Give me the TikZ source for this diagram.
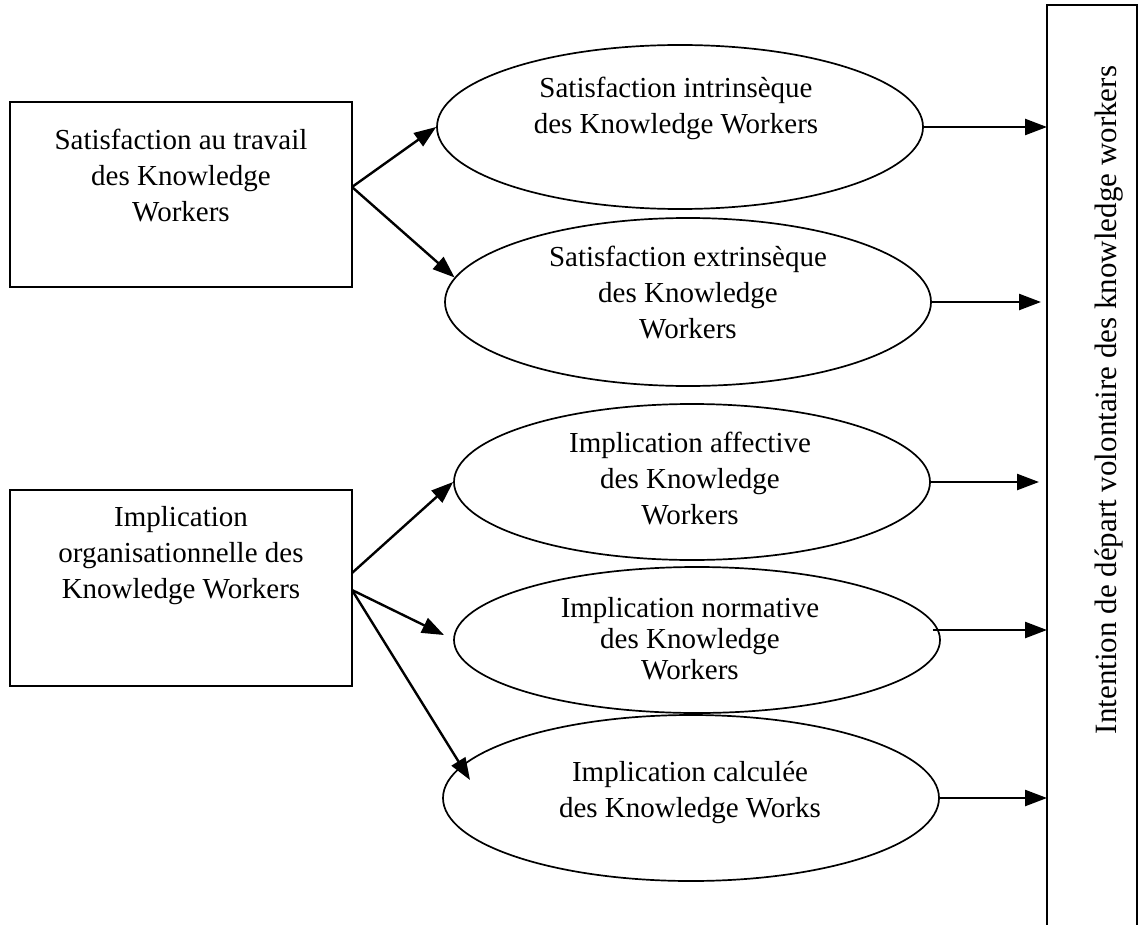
\documentclass[tikz,border=0pt]{standalone}
\usepackage{fontspec}
\setmainfont{Liberation Serif}
\usetikzlibrary{shapes.geometric,arrows.meta}
\begin{document}
\begin{tikzpicture}[x=1pt,y=-1pt,
  txt/.style={align=center,font=\fontsize{29}{36}\selectfont,inner sep=0pt},
  boxnode/.style={draw,line width=1.7pt,inner sep=0pt,minimum width=342pt},
  oval/.style={draw,ellipse,line width=1.7pt,inner sep=0pt},
  arr/.style={-{Triangle[length=22pt,width=16pt]},line width=2.4pt}]
\useasboundingbox (0,0) rectangle (1147,925);

% source boxes
\node[boxnode,minimum height=185pt] (b1) at (181,194.5) {};
\node[txt] at (181,176) {Satisfaction au travail\\des Knowledge\\Workers};
\node[boxnode,minimum height=196pt] (b2) at (181,588) {};
\node[txt] at (181,556) {Implication\\organisationnelle des\\Knowledge Workers};

% outcome box, running past the lower edge
\draw[line width=1.7pt] (1137,925) -- (1137,5) -- (1047,5) -- (1047,925);
\coordinate (tl) at (1047,5);
\node[txt,rotate=90,font=\fontsize{31}{36}\selectfont] at (1109,400) {Intention de départ volontaire des knowledge workers};

% dimension ellipses
\node[oval,minimum width=486pt,minimum height=164pt] (e1) at (680,127) {};
\node[txt] at (676,108) {Satisfaction intrinsèque\\des Knowledge Workers};
\node[oval,minimum width=486pt,minimum height=168pt] (e2) at (688,302) {};
\node[txt] at (688,293) {Satisfaction extrinsèque\\des Knowledge\\Workers};
\node[oval,minimum width=476pt,minimum height=156pt] (e3) at (692,482) {};
\node[txt] at (690,479) {Implication affective\\des Knowledge\\Workers};
\node[oval,minimum width=486pt,minimum height=146pt] (e4) at (697,640) {};
\node[txt,font=\fontsize{29}{31}\selectfont] at (690,639) {Implication normative\\des Knowledge\\Workers};
\node[oval,minimum width=496pt,minimum height=166pt] (e5) at (691,798) {};
\node[txt] at (690,793) {Implication calculée\\des Knowledge Works};

% arrow origins on the source boxes, free ends short of the ellipses
\coordinate (s1) at (352,187);
\coordinate (s2) at (352,573);
\coordinate (s3) at (352,590);
\coordinate (t4) at (444,635);
\coordinate (t5) at (470,780);

\draw[arr] (s1) -- (e1.west);
\draw[arr] (s1) -- (e2.174);
\draw[arr] (s2) -- (e3.west);
\draw[arr] (s3) -- (t4);
\draw[arr] (s3) -- (t5);

% arrows into the outcome box
\draw[arr] (e1.east) -- (e1.east -| tl);
\draw[arr] (e2.east) -- ([xshift=-6pt]e2.east -| tl);
\draw[arr] (e3.east) -- ([xshift=-8pt]e3.east -| tl);
\draw[arr] ([xshift=-8pt,yshift=10pt]e4.east) -- ([yshift=10pt]e4.east -| tl);
\draw[arr] (e5.east) -- (e5.east -| tl);
\end{tikzpicture}
\end{document}
